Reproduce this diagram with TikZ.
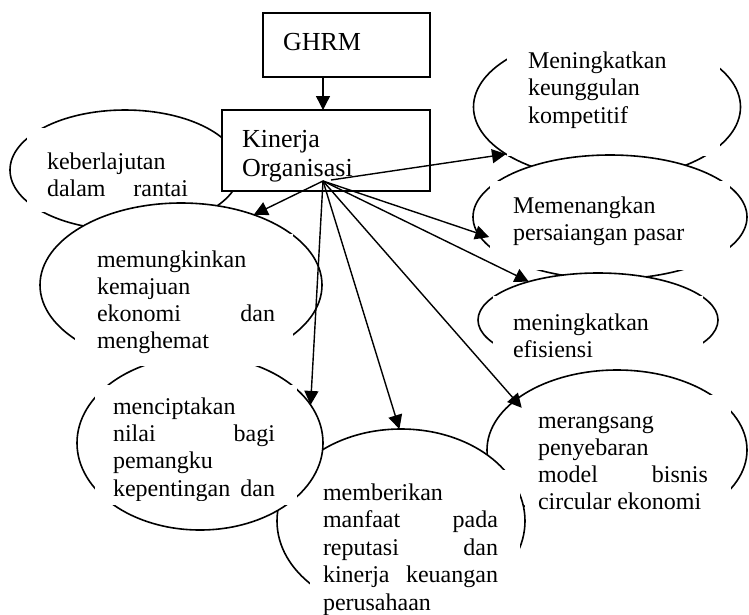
\documentclass[tikz,border=0pt]{standalone}
\usepackage{fontspec}
\setmainfont{Liberation Serif}
\usetikzlibrary{arrows.meta,shapes.geometric}
\newcommand{\ebody}{\fontsize{24pt}{27.5pt}\selectfont}
\newcommand{\bbody}{\fontsize{26pt}{29pt}\selectfont}
\newcommand{\txtblock}[3]{\vtop{\hsize=#1\baselineskip=#2\lineskiplimit=-40pt\lineskip=0pt #3}}
\newcommand{\jline}[2]{\hbox to \hsize{#1\hfill #2}}
\newcommand{\pline}[1]{\hbox to \hsize{#1\hfill}}
\begin{document}
\begin{tikzpicture}[x=1pt,y=-1pt,
  ell/.style={draw, fill=white, ellipse, inner sep=0pt, outer sep=0pt, line width=1.6pt},
  sq/.style={draw, fill=white, rectangle, inner sep=0pt, outer sep=0pt, line width=1.6pt},
  tbox/.style={fill=white},
  txt/.style={anchor=base west, inner sep=0pt, outer sep=0pt, font=\ebody},
  arr/.style={-{Triangle[length=14pt,width=14pt]}, line width=1.4pt}]
\fill[white] (0,0) rectangle (749,614);
\useasboundingbox (0,0) rectangle (749,614);

% ellipse A and its text box
\node[ell, minimum width=230pt, minimum height=120pt] (A) at (125,170) {};
\fill[tbox] (27,128) rectangle (200,212);
% top-right column
\node[ell, minimum width=267pt, minimum height=144pt] (M1) at (607,107) {};
\fill[tbox] (507,32) rectangle (720,156);
\node[ell, minimum width=274pt, minimum height=124pt] (M2) at (610,217) {};
\fill[tbox] (490,181) rectangle (730,270);
\node[ell, minimum width=240pt, minimum height=94pt] (M3) at (598,320) {};
\fill[tbox] (493,296) rectangle (703,369);
\node[ell, minimum width=260pt, minimum height=160pt] (E) at (617,450) {};
\fill[tbox] (525,395) rectangle (731,533);
\node[ell, minimum width=248pt, minimum height=184pt] (D) at (401,521) {};
\fill[tbox] (310,470) rectangle (520,614);
% left column
\node[ell, minimum width=282pt, minimum height=164pt] (B) at (181,285) {};
\node[ell, minimum width=246pt, minimum height=174pt] (C) at (200,443) {};
\fill[tbox] (75,234) rectangle (293,366);
\fill[tbox] (95,385) rectangle (297,505);

% boxes
\node[sq, minimum width=167pt, minimum height=64pt] (GHRM) at (346.5,45) {};
\node[sq, minimum width=208pt, minimum height=81pt] (Kin) at (326,150.5) {};
\coordinate (hub) at (323,181);
\coordinate (hubb) at (331,180);

% connectors
\draw[arr] (GHRM.south -| hub) -- (Kin.north -| hub);
\draw[arr] (hubb) -- (M1.205);
\draw[arr] (hub) -- (B.44);
\draw[arr, shorten >=-12pt] (hub) -- (M2.187);
\draw[arr] (hub) -- (M3.151);
\draw[arr] (hub) -- (C.19);
\draw[arr] (hub) -- (D.91);
\draw[arr, shorten >=-10pt] (hub) -- (E.154);

% texts
\node[txt, font=\bbody] (tG) at (283,50) {GHRM};
\node[txt, font=\bbody] (tK) at (242,147) {\txtblock{150pt}{29pt}{\pline{Kinerja}\pline{Organisasi}}};
\node[txt] (tA) at (47,169) {\txtblock{141pt}{27.5pt}{\pline{keberlajutan}\jline{dalam}{rantai}}};
\node[txt] (tM1) at (528,68) {\txtblock{160pt}{27.5pt}{\pline{Meningkatkan}\pline{keunggulan}\pline{kompetitif}}};
\node[txt] (tM2) at (513,213) {\txtblock{180pt}{27pt}{\pline{Memenangkan}\pline{persaiangan pasar}}};
\node[txt] (tM3) at (513,330) {\txtblock{170pt}{27pt}{\pline{meningkatkan}\pline{efisiensi}}};
\node[txt] (tB) at (97,267) {\txtblock{178pt}{27pt}{\pline{memungkinkan}\pline{kemajuan}\jline{ekonomi}{dan}\pline{menghemat}}};
\begin{scope}
\clip (95,385) rectangle (297,500);
\node[txt] (tC) at (113,414) {\txtblock{162pt}{27.4pt}{\pline{menciptakan}\jline{nilai}{bagi}\pline{pemangku}\jline{kepentingan}{dan}}};
\end{scope}
\node[txt] (tD) at (323,500) {\txtblock{175pt}{27.5pt}{\pline{memberikan}\jline{manfaat}{pada}\jline{reputasi}{dan}\jline{kinerja}{keuangan}\pline{perusahaan}}};
\node[txt] (tE) at (538,428) {\txtblock{170pt}{27pt}{\pline{merangsang}\pline{penyebaran}\jline{model}{bisnis}\pline{circular ekonomi}}};
\end{tikzpicture}
\end{document}
